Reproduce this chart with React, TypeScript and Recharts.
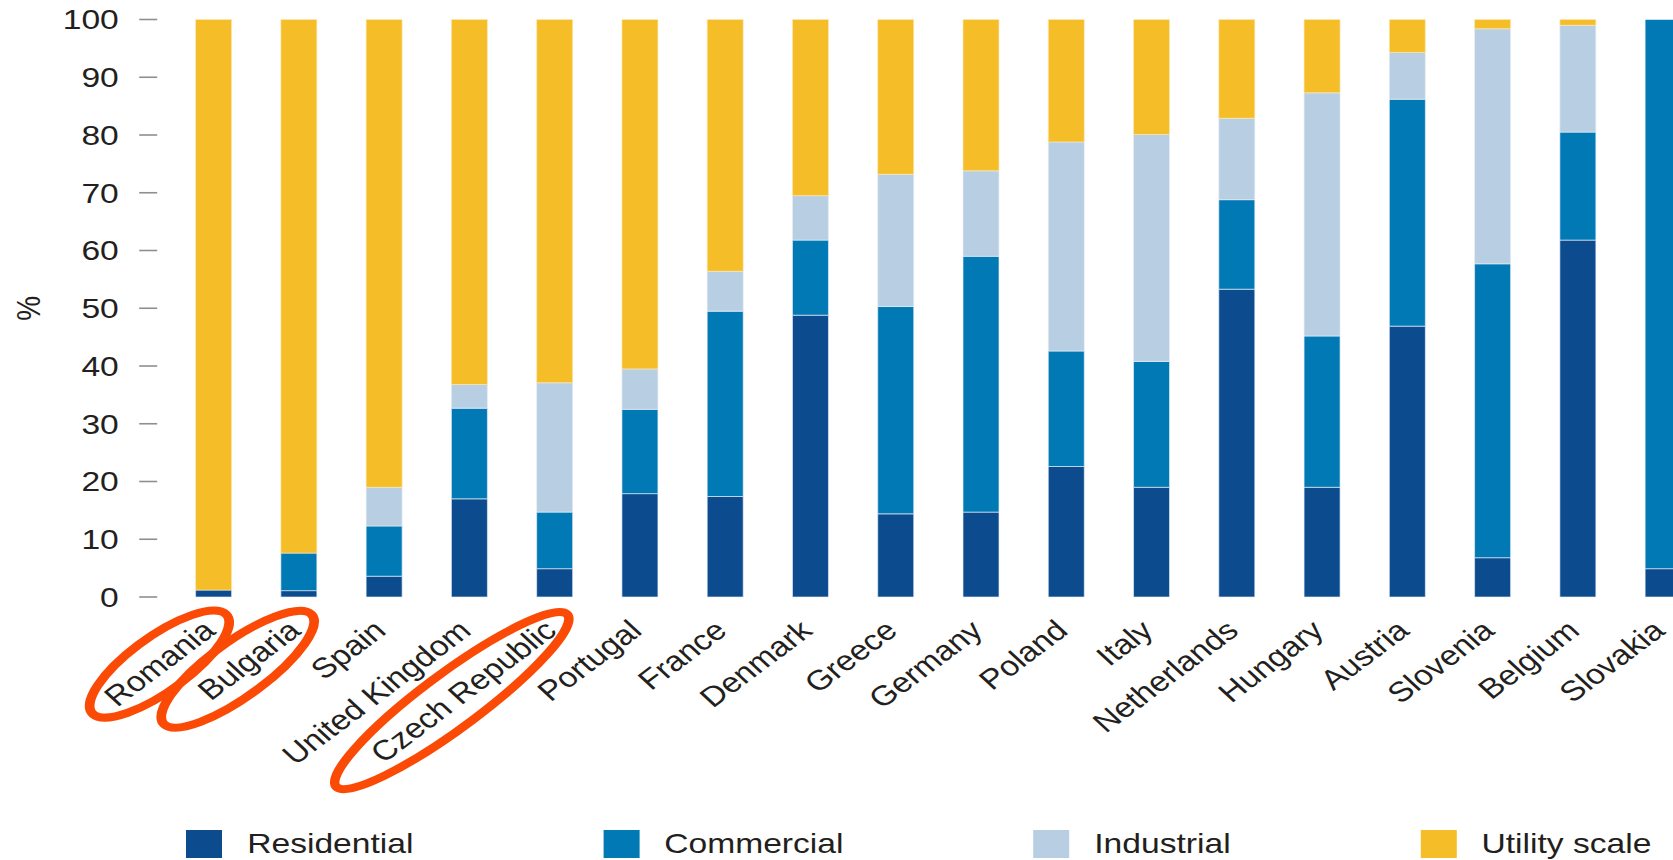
import React from 'react';
import { BarChart, Bar, XAxis, YAxis, Legend } from 'recharts';

const countries = [
  'Romania', 'Bulgaria', 'Spain', 'United Kingdom', 'Czech Republic', 'Portugal',
  'France', 'Denmark', 'Greece', 'Germany', 'Poland', 'Italy',
  'Netherlands', 'Hungary', 'Austria', 'Slovenia', 'Belgium', 'Slovakia',
];
const residential = [1.2, 1.1, 3.6, 17.0, 4.9, 17.9, 17.4, 48.8, 14.4, 14.7, 22.6, 19.0, 53.3, 19.0, 46.9, 6.8, 61.8, 4.9];
const commercial = [0, 6.5, 8.7, 15.7, 9.8, 14.6, 32.1, 13.0, 35.9, 44.3, 20.0, 21.8, 15.5, 26.2, 39.3, 50.9, 18.7, 95.1];
const industrial = [0, 0, 6.7, 4.1, 22.4, 7.0, 6.9, 7.7, 22.9, 14.8, 36.2, 39.3, 14.1, 42.1, 8.1, 40.7, 18.5, 0];
const utility = [98.8, 92.4, 81.0, 63.2, 62.9, 60.5, 43.6, 30.5, 26.8, 26.2, 21.2, 19.9, 17.1, 12.7, 5.7, 1.6, 1.0, 0];
const yTicks = [0, 10, 20, 30, 40, 50, 60, 70, 80, 90, 100];
const seriesNames = ['Residential', 'Commercial', 'Industrial', 'Utility scale'];
// labels someone circled by hand on the original
const circled = ['Romania', 'Bulgaria', 'Czech Republic'];

const data = countries.map((country, i) => ({
  country,
  residential: residential[i],
  commercial: commercial[i],
  industrial: industrial[i],
  utility: utility[i],
}));

const TEXT = '#231f20';
const FONT = '"Liberation Sans", Arial, Helvetica, sans-serif';

const CountryTick = ({ x, y, payload }: any) => {
  const name: string = payload.value;
  const w = name.length * 15.6;
  return (
    <g transform={`translate(${x - 10},${y}) rotate(-42)`}>
      {circled.includes(name) && (
        <ellipse cx={-w / 2 - 2} cy={11} rx={w / 2 + 20} ry={26} fill="none" stroke="#fb4a05" strokeWidth={8} />
      )}
      <text x={0} y={0} dy={20} textAnchor="end" fontSize={28} fill={TEXT}>{name}</text>
    </g>
  );
};

const renderLegend = (props: any) => {
  const items = [...props.payload].sort(
    (a: any, b: any) => seriesNames.indexOf(a.value) - seriesNames.indexOf(b.value)
  );
  return (
    <div style={{ display: 'flex', alignItems: 'center', height: 32, paddingLeft: 155 }}>
      {items.map((entry: any) => (
        <div key={entry.value} style={{ display: 'flex', alignItems: 'center', marginRight: 158, flexShrink: 0, whiteSpace: 'nowrap' }}>
          <span style={{ display: 'inline-block', width: 30, height: 28, background: entry.color, marginRight: 21 }} />
          <span style={{ fontSize: 28, color: TEXT, lineHeight: '28px' }}>{entry.value}</span>
        </div>
      ))}
    </div>
  );
};

export default function App() {
  return (
    <div style={{ position: 'absolute', left: 0, top: 0, width: 1673, height: 860, overflow: 'hidden', background: '#fff', fontFamily: FONT }}>
      <style>{'body{margin:0;overflow:hidden}'}</style>
      {/* source image was stretched horizontally, so stretch the whole chart too */}
      <div style={{ width: 1421, transform: 'scaleX(1.2)', transformOrigin: '0 0' }}>
        <BarChart width={1421} height={860} data={data} margin={{ top: 19.5, right: 0, left: 0, bottom: 0 }}>
          <XAxis
            dataKey="country"
            interval={0}
            axisLine={false}
            tickLine={false}
            tickSize={0}
            tickMargin={21}
            height={231}
            padding={{ left: 11, right: 0 }}
            tick={<CountryTick />}
          />
          <YAxis
            domain={[0, 100]}
            ticks={yTicks}
            width={131}
            axisLine={false}
            tickSize={15}
            tickMargin={17}
            tickLine={{ stroke: '#8f8f8f', strokeWidth: 1.6 }}
            tick={{ fontSize: 28, fill: TEXT }}
            label={{ value: '%', angle: -90, position: 'insideLeft', offset: 23, fontSize: 28, fill: TEXT, style: { textAnchor: 'middle' } }}
          />
          <Legend verticalAlign="bottom" content={renderLegend} wrapperStyle={{ left: 0 }} />
          <Bar dataKey="residential" name="Residential" stackId="a" fill="#0b4b8e" barSize={30} stroke="#e8eef5" strokeWidth={0.6} isAnimationActive={false} />
          <Bar dataKey="commercial" name="Commercial" stackId="a" fill="#0079b5" barSize={30} stroke="#e8eef5" strokeWidth={0.6} isAnimationActive={false} />
          <Bar dataKey="industrial" name="Industrial" stackId="a" fill="#b8cee2" barSize={30} stroke="#e8eef5" strokeWidth={0.6} isAnimationActive={false} />
          <Bar dataKey="utility" name="Utility scale" stackId="a" fill="#f5bd27" barSize={30} stroke="#fbe9b8" strokeWidth={0.6} isAnimationActive={false} />
        </BarChart>
      </div>
    </div>
  );
}
